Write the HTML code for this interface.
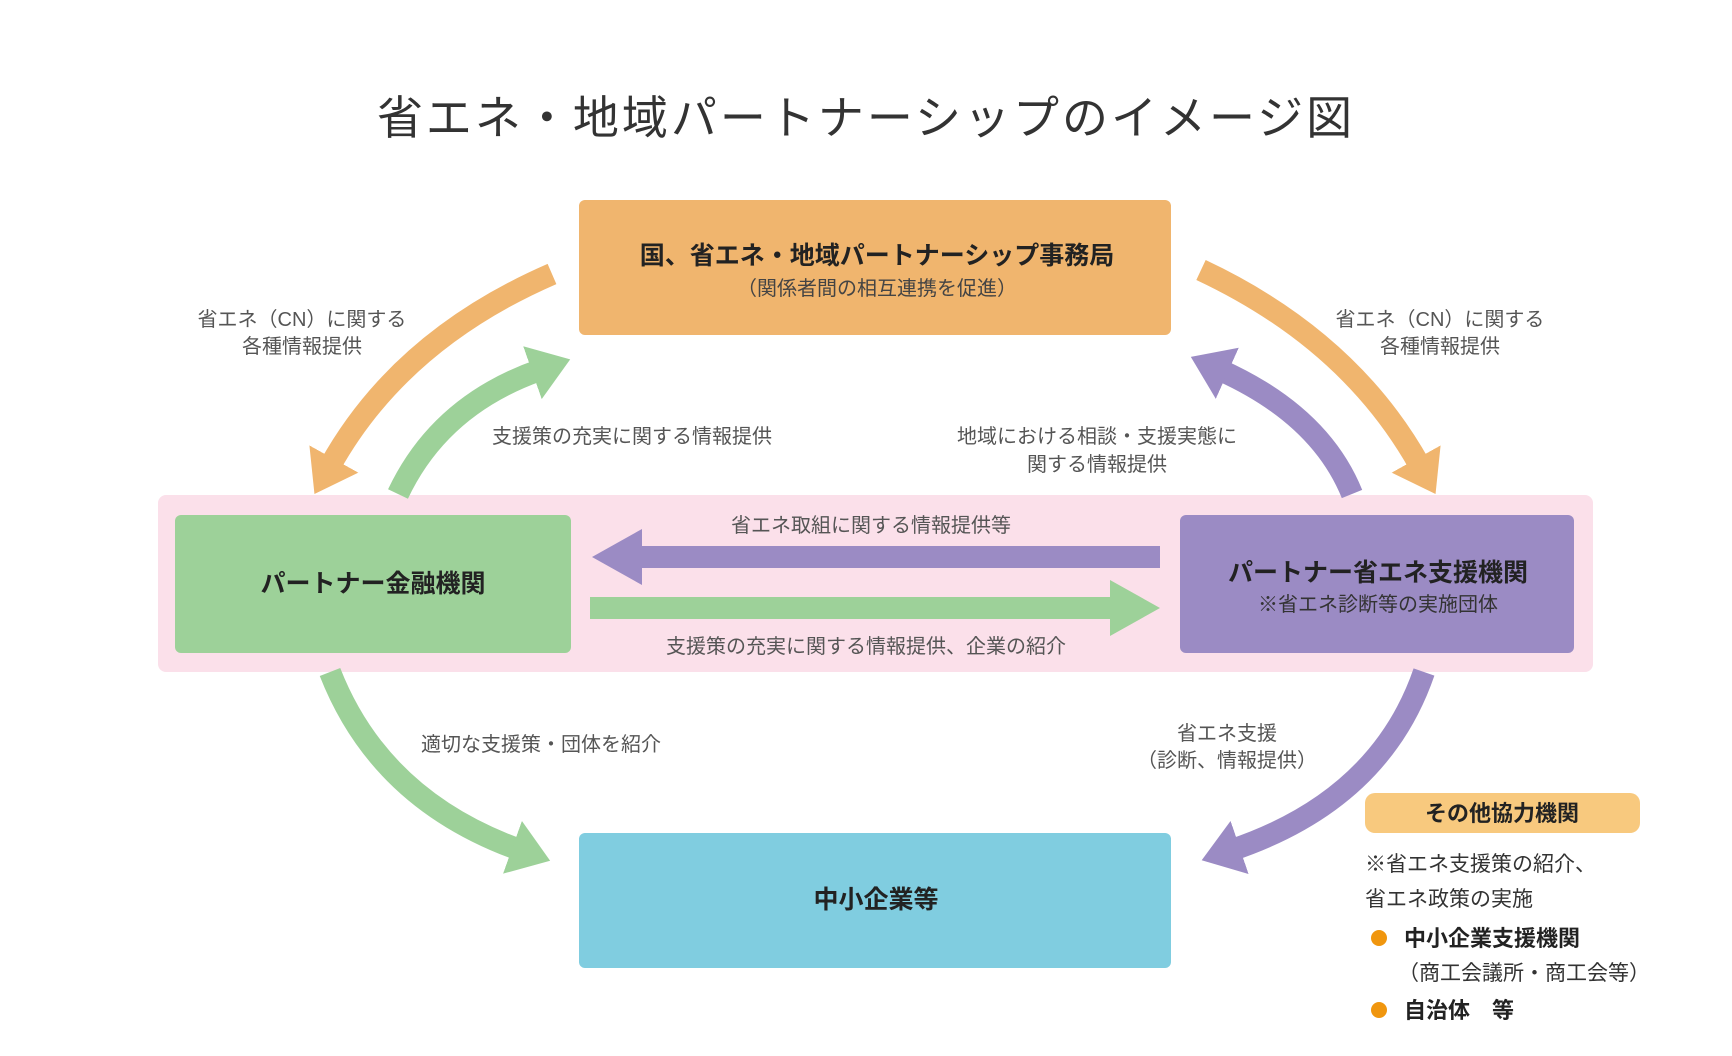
<!DOCTYPE html>
<html><head><meta charset="utf-8"><style>
html,body{margin:0;padding:0;background:#fff;}
svg{display:block;}
text{font-family:"Liberation Sans","Noto Sans CJK JP",sans-serif;}
.lb{fill:#555;font-size:20px;}
.bt{fill:#222;font-size:25px;font-weight:bold;}
</style></head><body>
<svg width="1732" height="1056" viewBox="0 0 1732 1056" xmlns="http://www.w3.org/2000/svg">
<defs>
<marker id="mo" markerUnits="userSpaceOnUse" markerWidth="60" markerHeight="60" refX="8" refY="28" orient="auto"><path d="M0,0 L40,28 L0,56 z" fill="#f0b56e"/></marker>
<marker id="mg" markerUnits="userSpaceOnUse" markerWidth="60" markerHeight="60" refX="8" refY="28" orient="auto"><path d="M0,0 L40,28 L0,56 z" fill="#9dd199"/></marker>
<marker id="mp" markerUnits="userSpaceOnUse" markerWidth="60" markerHeight="60" refX="8" refY="28" orient="auto"><path d="M0,0 L40,28 L0,56 z" fill="#9b8bc4"/></marker>
</defs>
<text x="866" y="134" text-anchor="middle" font-size="46" fill="#333" letter-spacing="3" font-family="Liberation Sans, Noto Sans CJK JP, sans-serif">省エネ・地域パートナーシップのイメージ図</text>

<rect x="158" y="495" width="1435" height="177" rx="8" fill="#fbe0ea"/>
<rect x="579" y="200" width="592" height="135" rx="6" fill="#f0b56e"/>
<rect x="175" y="515" width="396" height="138" rx="6" fill="#9dd199"/>
<rect x="1180" y="515" width="394" height="138" rx="6" fill="#9b8bc4"/>
<rect x="579" y="833" width="592" height="135" rx="6" fill="#80cde0"/>
<rect x="1365" y="793" width="275" height="40" rx="10" fill="#f8c97e"/>

<!-- curved arrows -->
<path d="M552,274 Q400,340 330,466" fill="none" stroke="#f0b56e" stroke-width="22" marker-end="url(#mo)"/>
<path d="M398,494 Q440,405 540,370" fill="none" stroke="#9dd199" stroke-width="22" marker-end="url(#mg)"/>
<path d="M1352,494 Q1320,415 1220,370" fill="none" stroke="#9b8bc4" stroke-width="22" marker-end="url(#mp)"/>
<path d="M1201,270 Q1350,340 1420,466" fill="none" stroke="#f0b56e" stroke-width="22" marker-end="url(#mo)"/>
<path d="M330,672 Q380,800 520,850" fill="none" stroke="#9dd199" stroke-width="22" marker-end="url(#mg)"/>
<path d="M1424,672 Q1380,800 1232,850" fill="none" stroke="#9b8bc4" stroke-width="22" marker-end="url(#mp)"/>

<!-- horizontal arrows -->
<rect x="640" y="546" width="520" height="22" fill="#9b8bc4"/>
<polygon points="592,557 642,529 642,585" fill="#9b8bc4"/>
<rect x="590" y="597" width="520" height="22" fill="#9dd199"/>
<polygon points="1160,608 1110,580 1110,636" fill="#9dd199"/>

<!-- box text -->
<text class="bt" x="877" y="264" text-anchor="middle">国、省エネ・地域パートナーシップ事務局</text>
<text x="877" y="295" text-anchor="middle" font-size="20" fill="#444">（関係者間の相互連携を促進）</text>
<text class="bt" x="373" y="592" text-anchor="middle">パートナー金融機関</text>
<text class="bt" x="1378" y="581" text-anchor="middle" fill="#222">パートナー省エネ支援機関</text>
<text x="1378" y="611" text-anchor="middle" font-size="20" fill="#333">※省エネ診断等の実施団体</text>
<text class="bt" x="876" y="908" text-anchor="middle">中小企業等</text>

<!-- labels -->
<text class="lb" x="302" y="326" text-anchor="middle">省エネ（CN）に関する</text>
<text class="lb" x="302" y="353" text-anchor="middle">各種情報提供</text>
<text class="lb" x="1440" y="326" text-anchor="middle">省エネ（CN）に関する</text>
<text class="lb" x="1440" y="353" text-anchor="middle">各種情報提供</text>
<text class="lb" x="492" y="443">支援策の充実に関する情報提供</text>
<text class="lb" x="1097" y="443" text-anchor="middle">地域における相談・支援実態に</text>
<text class="lb" x="1097" y="471" text-anchor="middle">関する情報提供</text>
<text class="lb" x="871" y="532" text-anchor="middle">省エネ取組に関する情報提供等</text>
<text class="lb" x="866" y="653" text-anchor="middle">支援策の充実に関する情報提供、企業の紹介</text>
<text class="lb" x="421" y="751">適切な支援策・団体を紹介</text>
<text class="lb" x="1227" y="740" text-anchor="middle">省エネ支援</text>
<text class="lb" x="1227" y="767" text-anchor="middle">（診断、情報提供）</text>

<!-- right panel -->
<text x="1502" y="821" text-anchor="middle" font-size="22" font-weight="bold" fill="#222">その他協力機関</text>
<text x="1365" y="871" font-size="21" fill="#333">※省エネ支援策の紹介、</text>
<text x="1365" y="906" font-size="21" fill="#333">省エネ政策の実施</text>
<circle cx="1379" cy="938" r="8" fill="#f0960e"/>
<text x="1404" y="946" font-size="22" font-weight="bold" fill="#222">中小企業支援機関</text>
<text x="1398" y="980" font-size="21" fill="#333">（商工会議所・商工会等）</text>
<circle cx="1379" cy="1010" r="8" fill="#f0960e"/>
<text x="1404" y="1018" font-size="22" font-weight="bold" fill="#222">自治体　等</text>
</svg>
</body></html>
